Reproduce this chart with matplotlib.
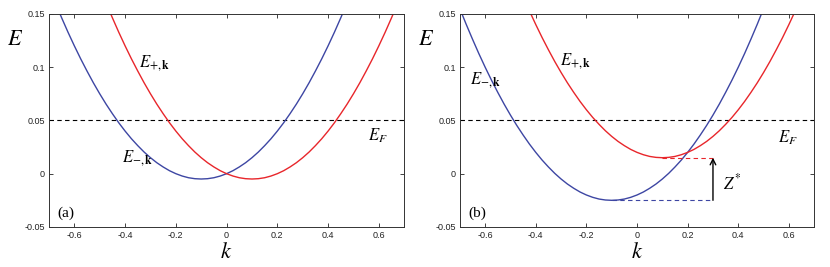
import matplotlib
matplotlib.use('Agg')
import matplotlib.pyplot as plt

plt.rcParams['font.family'] = ['Liberation Sans', 'DejaVu Sans']
plt.rcParams['mathtext.fontset'] = 'stix'

# dispersion, k grid in steps of 0.025
k = [-0.700, -0.675, -0.650, -0.625, -0.600, -0.575, -0.550, -0.525, -0.500, -0.475,
     -0.450, -0.425, -0.400, -0.375, -0.350, -0.325, -0.300, -0.275, -0.250, -0.225,
     -0.200, -0.175, -0.150, -0.125, -0.100, -0.075, -0.050, -0.025, 0.000,
     0.025, 0.050, 0.075, 0.100, 0.125, 0.150, 0.175, 0.200, 0.225, 0.250,
     0.275, 0.300, 0.325, 0.350, 0.375, 0.400, 0.425, 0.450, 0.475, 0.500,
     0.525, 0.550, 0.575, 0.600, 0.625, 0.650, 0.675, 0.700]

# panel (a)
E_minus_a = [0.175, 0.1603, 0.1463, 0.1328, 0.12, 0.1078, 0.0963, 0.0853, 0.075, 0.0653,
             0.0563, 0.0478, 0.04, 0.0328, 0.0263, 0.0203, 0.015, 0.0103, 0.0063, 0.0028,
             0.0, -0.0022, -0.0038, -0.0047, -0.005, -0.0047, -0.0038, -0.0022, 0.0,
             0.0028, 0.0063, 0.0103, 0.015, 0.0203, 0.0263, 0.0328, 0.04, 0.0478, 0.0563,
             0.0653, 0.075, 0.0853, 0.0963, 0.1078, 0.12, 0.1328, 0.1463, 0.1603, 0.175,
             0.1903, 0.2063, 0.2228, 0.24, 0.2578, 0.2763, 0.2953, 0.315]
E_plus_a = [0.315, 0.2953, 0.2763, 0.2578, 0.24, 0.2228, 0.2063, 0.1903, 0.175, 0.1603,
            0.1463, 0.1328, 0.12, 0.1078, 0.0963, 0.0853, 0.075, 0.0653, 0.0563, 0.0478,
            0.04, 0.0328, 0.0263, 0.0203, 0.015, 0.0103, 0.0063, 0.0028, 0.0,
            -0.0022, -0.0038, -0.0047, -0.005, -0.0047, -0.0038, -0.0022, 0.0, 0.0028, 0.0063,
            0.0103, 0.015, 0.0203, 0.0263, 0.0328, 0.04, 0.0478, 0.0563, 0.0653, 0.075,
            0.0853, 0.0963, 0.1078, 0.12, 0.1328, 0.1463, 0.1603, 0.175]

# panel (b)
E_minus_b = [0.155, 0.1403, 0.1263, 0.1128, 0.10, 0.0878, 0.0763, 0.0653, 0.055, 0.0453,
             0.0363, 0.0278, 0.02, 0.0128, 0.0063, 0.0003, -0.005, -0.0097, -0.0137, -0.0172,
             -0.02, -0.0222, -0.0238, -0.0247, -0.025, -0.0247, -0.0238, -0.0222, -0.02,
             -0.0172, -0.0137, -0.0097, -0.005, 0.0003, 0.0063, 0.0128, 0.02, 0.0278, 0.0363,
             0.0453, 0.055, 0.0653, 0.0763, 0.0878, 0.10, 0.1128, 0.1263, 0.1403, 0.155,
             0.1703, 0.1863, 0.2028, 0.22, 0.2378, 0.2563, 0.2753, 0.295]
E_plus_b = [0.335, 0.3153, 0.2963, 0.2778, 0.26, 0.2428, 0.2263, 0.2103, 0.195, 0.1803,
            0.1663, 0.1528, 0.14, 0.1278, 0.1163, 0.1053, 0.095, 0.0853, 0.0763, 0.0678,
            0.06, 0.0528, 0.0463, 0.0403, 0.035, 0.0303, 0.0263, 0.0228, 0.02,
            0.0178, 0.0162, 0.0153, 0.015, 0.0153, 0.0162, 0.0178, 0.02, 0.0228, 0.0263,
            0.0303, 0.035, 0.0403, 0.0463, 0.0528, 0.06, 0.0678, 0.0763, 0.0853, 0.095,
            0.1053, 0.1163, 0.1278, 0.14, 0.1528, 0.1663, 0.1803, 0.195]

E_F = 0.05
Z_low, Z_high, Z_k = -0.025, 0.015, 0.3

xticks = [-0.6, -0.4, -0.2, 0, 0.2, 0.4, 0.6]
xlabels = ['-0.6', '-0.4', '-0.2', '0', '0.2', '0.4', '0.6']
yticks = [-0.05, 0, 0.05, 0.1, 0.15]
ylabels = ['-0.05', '0', '0.05', '0.1', '0.15']

blue = '#3d46a3'
red = '#e8262b'

fig = plt.figure(figsize=(8.3, 2.67), dpi=100)
ax_a = fig.add_axes([0.059, 0.150, 0.428, 0.798])
ax_b = fig.add_axes([0.554, 0.150, 0.427, 0.798])


def setup(ax, tag):
    ax.set_xlim(-0.7, 0.7)
    ax.set_ylim(-0.05, 0.15)
    ax.set_xticks(xticks)
    ax.set_xticklabels(xlabels)
    ax.set_yticks(yticks)
    ax.set_yticklabels(ylabels)
    ax.tick_params(direction='in', top=True, right=True, labelsize=6.5,
                   length=3, width=0.6, pad=3, colors='#222222')
    for s in ax.spines.values():
        s.set_linewidth(0.7)
        s.set_color('#333333')
    ax.axhline(E_F, color='black', lw=0.8, ls=(0, (4, 3)))
    ax.text(-0.665, -0.037, tag, fontsize=11, family='Liberation Serif', va='center')
    ax.text(-0.118, 0.878, '$E$', fontsize=16, transform=ax.transAxes,
            va='center', ha='left', clip_on=False)
    ax.set_xlabel('$k$', fontsize=16, labelpad=1)


# (a)
setup(ax_a, '(a)')
ax_a.plot(k, E_minus_a, color=blue, lw=1.0)
ax_a.plot(k, E_plus_a, color=red, lw=1.0)
ax_a.text(-0.345, 0.104, r'$E_{+,\mathbf{k}}$', fontsize=12, va='center')
ax_a.text(-0.413, 0.015, r'$E_{-,\mathbf{k}}$', fontsize=12, va='center')
ax_a.text(0.556, 0.036, r'$E_F$', fontsize=12, va='center')

# (b)
setup(ax_b, '(b)')
ax_b.plot(k, E_minus_b, color=blue, lw=1.0)
ax_b.plot(k, E_plus_b, color=red, lw=1.0)
ax_b.plot([-0.1, Z_k], [Z_low, Z_low], color=blue, lw=0.8, ls=(0, (4, 3)))
ax_b.plot([0.1, Z_k], [Z_high, Z_high], color=red, lw=0.8, ls=(0, (4, 3)))
ax_b.annotate('', xy=(Z_k, Z_high), xytext=(Z_k, Z_low),
              arrowprops=dict(arrowstyle='->', color='black', lw=1.0,
                              shrinkA=0, shrinkB=0))
ax_b.text(0.34, -0.008, r'$Z^{*}$', fontsize=12, va='center')
ax_b.text(-0.305, 0.106, r'$E_{+,\mathbf{k}}$', fontsize=12, va='center')
ax_b.text(-0.658, 0.0875, r'$E_{-,\mathbf{k}}$', fontsize=12, va='center')
ax_b.text(0.555, 0.034, r'$E_F$', fontsize=12, va='center')

fig.savefig('out.png', dpi=100)
